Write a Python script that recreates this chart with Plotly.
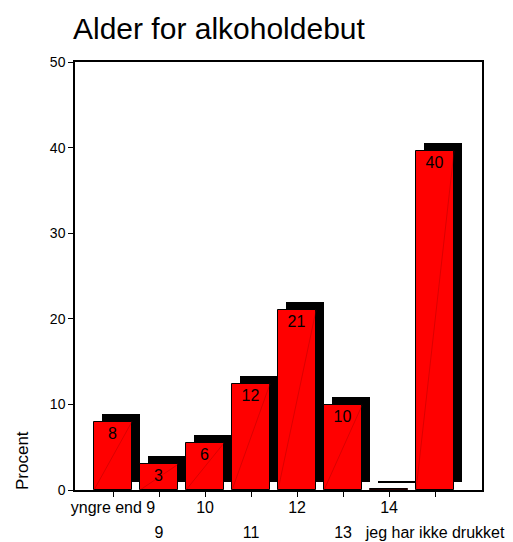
import plotly.graph_objects as go

categories = ["yngre end 9", "9", "10", "11", "12", "13", "14", "jeg har ikke drukket"]
percent = [8.0, 3.0, 5.5, 12.4, 21.0, 9.9, 0.1, 39.6]
bar_labels = ["8", "3", "6", "12", "21", "10", "", "40"]
y_ticks = [0, 10, 20, 30, 40, 50]

idx = list(range(len(categories)))
W = 0.826          # bar width (category units)
DX = 0.174         # shadow shift right (category units)
LIFT = 0.93        # shadow lift (value units)
FONT = "Liberation Sans, Arial, sans-serif"
PAD = 8            # browser body margin

fig = go.Figure()

# black 3D shadow
fig.add_trace(go.Bar(
    x=idx, y=percent, base=[LIFT] * len(idx), width=W, offset=-W / 2 + DX,
    marker=dict(color="black", line=dict(width=0)), hoverinfo="skip", showlegend=False,
))

# red bars
fig.add_trace(go.Bar(
    x=idx, y=percent, width=W, offset=-W / 2,
    marker=dict(color="#ff0000", line=dict(color="black", width=1)),
    text=bar_labels, textposition="inside", insidetextanchor="end", textangle=0,
    textfont=dict(size=16, color="black", family=FONT),
    showlegend=False,
))

# faint diagonal artifacts inside the red bars
dx_, dy_ = [], []
for i, v in zip(idx, percent):
    dx_ += [i - W / 2, i + W / 2, None]
    dy_ += [0, v, None]
fig.add_trace(go.Scatter(x=dx_, y=dy_, mode="lines",
                         line=dict(color="rgba(140,0,0,0.55)", width=0.6),
                         hoverinfo="skip", showlegend=False))

xr = [-0.826, 8.02]
fig.update_layout(
    width=513, height=542,
    margin=dict(l=75 - PAD, r=31 + PAD, t=62 - PAD, b=52 + PAD, autoexpand=False),
    paper_bgcolor="white", plot_bgcolor="white",
    barmode="overlay", bargap=0,
    font=dict(family=FONT, size=16, color="black"),
    title=dict(text="Alder for alkoholdebut", x=(73 - PAD) / 513, xanchor="left",
               xref="container", yref="container", y=1 - (28 - PAD) / 542, yanchor="middle",
               font=dict(size=30, family=FONT, color="black")),
    xaxis=dict(range=xr, tickmode="array", tickvals=idx, automargin=False,
               ticktext=[c if i % 2 == 0 else "" for i, c in enumerate(categories)],
               ticks="outside", ticklen=5, tickcolor="black", tickwidth=1,
               ticklabelstandoff=-3,
               showline=True, linecolor="black", linewidth=1.5, mirror=True,
               showgrid=False, zeroline=False, tickfont=dict(size=16)),
    xaxis2=dict(range=xr, overlaying="x", anchor="y", side="bottom", automargin=False,
                tickmode="array", tickvals=[i for i in idx if i % 2 == 1],
                ticktext=[c for i, c in enumerate(categories) if i % 2 == 1],
                ticks="", showline=False, showgrid=False, zeroline=False,
                ticklabelstandoff=31, tickfont=dict(size=16)),
    yaxis=dict(range=[0, 50], tickmode="array", tickvals=y_ticks, automargin=False,
               ticks="outside", ticklen=5, tickcolor="black",
               showline=True, linecolor="black", linewidth=1.5, mirror=True,
               showgrid=False, zeroline=False, tickfont=dict(size=14)),
    annotations=[dict(text="Procent", xref="paper", yref="paper",
                      x=(22 - 75) / 407, y=(490 - 461) / 428, textangle=-90,
                      showarrow=False, font=dict(size=17, family=FONT),
                      xanchor="center", yanchor="middle")],
)
# dummy trace to activate xaxis2
fig.add_trace(go.Scatter(x=[None], y=[None], xaxis="x2", showlegend=False, hoverinfo="skip"))

fig.write_html("out.html")
